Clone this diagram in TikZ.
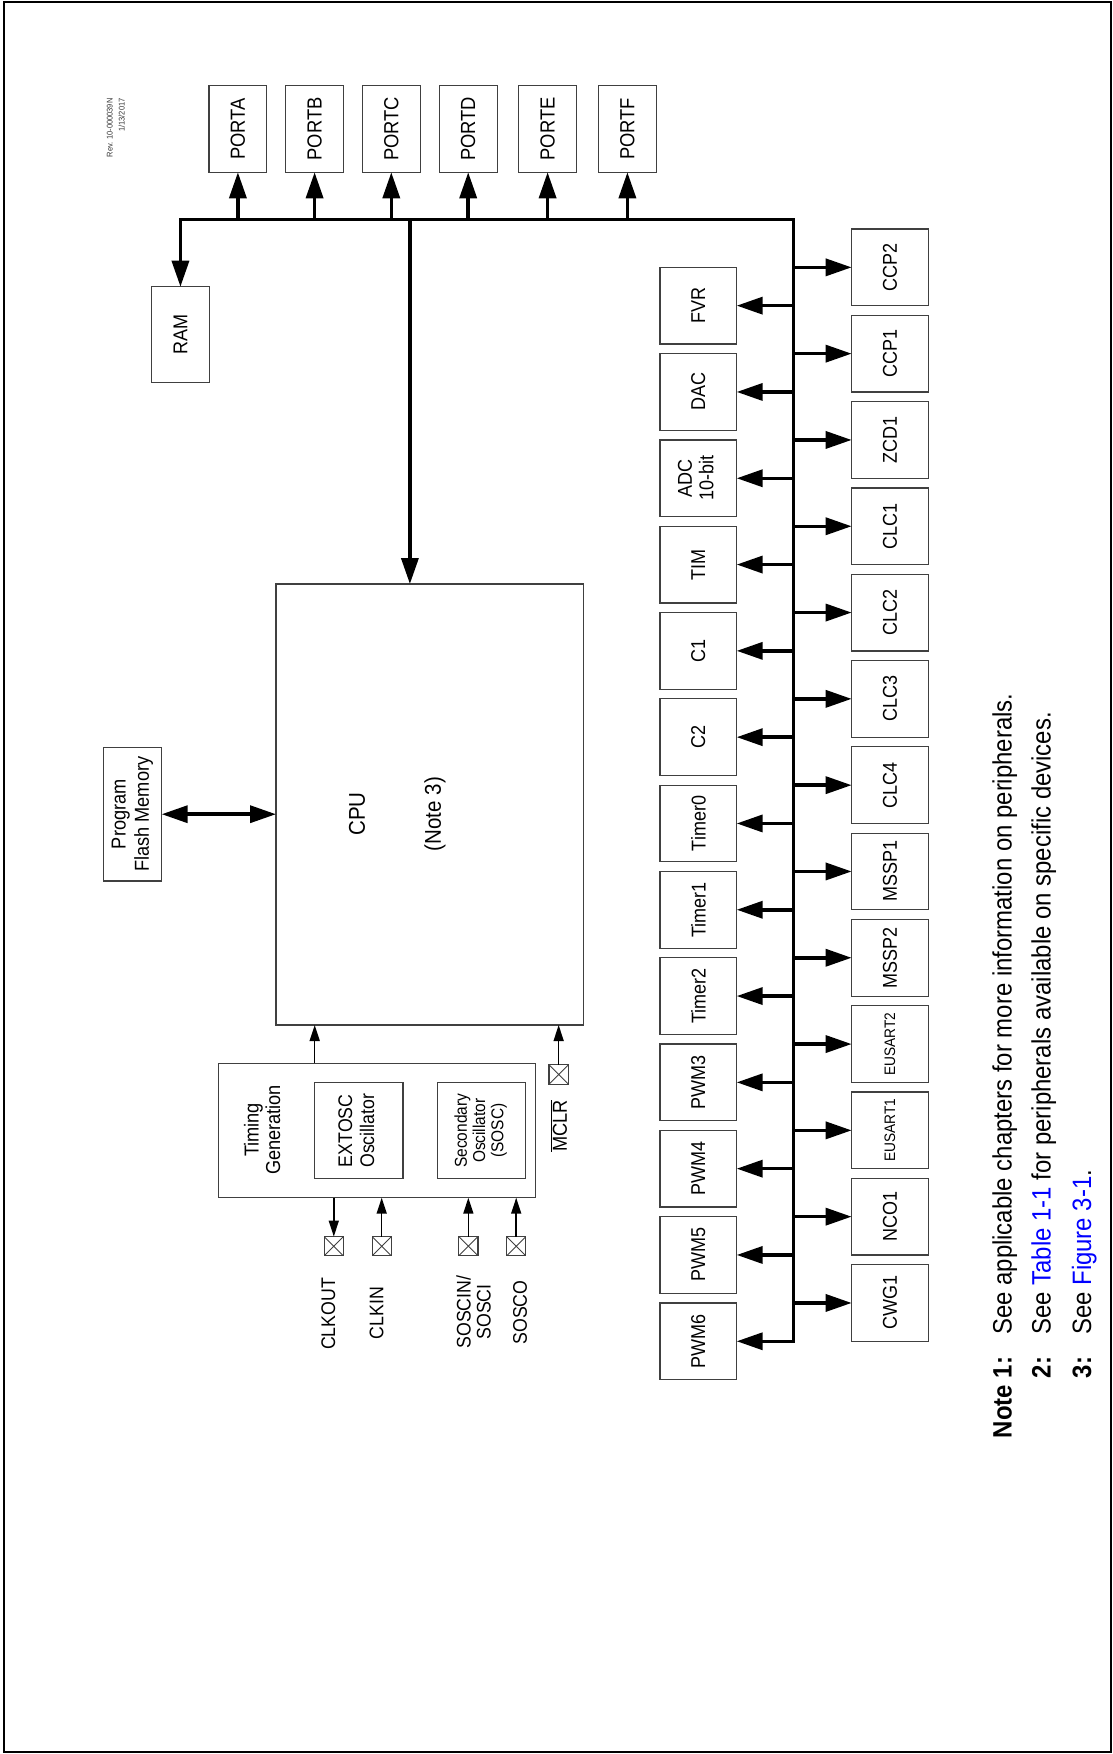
\documentclass[tikz,border=0pt]{standalone}
\usepackage{fontspec}
\setmainfont{Liberation Sans}[FakeStretch=0.9]
\usepackage{graphicx}
\usetikzlibrary{arrows.meta}
\newcommand{\fsz}[2]{\fontsize{#1}{#2}\selectfont}
\newcommand{\rt}[1]{\rotatebox{90}{#1}}
\newcommand{\stk}[1]{\begin{tabular}{@{}c@{}}#1\end{tabular}}
\newcommand{\smtxt}{\fsz{15.2}{16.5}}
\begin{document}
\begin{tikzpicture}[x=1pt,y=-1pt,
  box/.style={draw=black!75, line width=1.2pt, inner sep=0pt, outer sep=0pt, font=\fsz{20}{21.6}},
  port/.style={box, minimum width=57.8pt, minimum height=87pt, font=\fsz{20.4}{22}},
  periph/.style={box, minimum width=76.7pt, minimum height=76.7pt},
  pinbox/.style={draw=black!75, line width=1.1pt, inner sep=0pt, outer sep=0pt, minimum size=19.3pt,
    path picture={\draw[black!75,line width=0.9pt] (path picture bounding box.north west) -- (path picture bounding box.south east) (path picture bounding box.north east) -- (path picture bounding box.south west);}},
  lbl/.style={inner sep=0pt, font=\fsz{19.7}{20}},
  busline/.style={line width=3.5pt},
  thinline/.style={line width=1.5pt},
  bigarrow/.style={-{Triangle[length=26pt,width=17pt]}},
  dblarrow/.style={{Triangle[length=26pt,width=17pt]}-{Triangle[length=26pt,width=17pt]}},
  smallarrow/.style={-{Triangle[length=16pt,width=10pt]}},
  note/.style={inner sep=0pt, rotate=90, font=\fsz{26.6}{30}},
  notelab/.style={inner sep=0pt, rotate=90, font=\fsz{26.6}{30}\bfseries, anchor=base east}
]
\useasboundingbox (0,0) rectangle (1112,1754);
\draw[line width=2pt] (4.3,1.8) rectangle (1111,1752.3);

% revision text
\node[rotate=90, anchor=north east, align=right, inner sep=0pt, font=\fsz{8.3}{12}, text=black!80] (rev) at (106.7,98.3) {Rev. 10-000039N\\1/13/2017};

% ports
\foreach \n/\t/\x in {pa/PORTA/237.9, pb/PORTB/314.6, pc/PORTC/391.3, pd/PORTD/468.2, pe/PORTE/547.6, pf/PORTF/627.4}
  \node[port] (\n) at (\x,128.8) {\rt{\t}};

% RAM, CPU, flash
\node[box, minimum width=57.7pt, minimum height=95.6pt] (ram) at (180.45,334.5) {\rt{RAM}};
\node[box, minimum width=307.3pt, minimum height=441pt] (cpu) at (429.65,804.5) {};
\node[lbl, font=\fsz{22.8}{25}] (lcpu) at (357,814) {\rt{CPU}};
\node[lbl, font=\fsz{22.8}{25}] (lnote3) at (435,814) {\rt{(Note 3)}};
\node[box, minimum width=58.4pt, minimum height=133.7pt, font=\fsz{20.2}{23.3}] (pfm) at (132.5,814.2) {\rt{\stk{Program\\Flash Memory}}};

% timing generation
\node[box, minimum width=316.6pt, minimum height=134.4pt] (tmg) at (377,1130.5) {};
\node[lbl, font=\fsz{20.2}{21.6}] (ltmg) at (265,1130) {\rt{\stk{Timing\\Generation}}};
\node[box, minimum width=88.7pt, minimum height=96pt, font=\fsz{19.7}{22}] (extosc) at (358.65,1130.7) {\rt{\stk{EXTOSC\\Oscillator}}};
\node[box, minimum width=88.4pt, minimum height=96pt, font=\fsz{17.2}{18.3}] (sosc) at (481.5,1130.7) {\rt{\stk{Secondary\\Oscillator\\(SOSC)}}};

% pins
\node[pinbox] (pmclr) at (558.65,1074.5) {};
\node[pinbox] (pclkout) at (333.8,1246.2) {};
\node[pinbox] (pclkin) at (381.7,1246.2) {};
\node[pinbox] (psoscin) at (468.35,1246.2) {};
\node[pinbox] (psosco) at (516.2,1246.2) {};
\node[lbl, font=\fsz{20.2}{22}] (lmclr) at (559,1126) {\rt{$\overline{\mbox{MCLR}}$}};
\node[lbl] (lclkout) at (328.3,1314) {\rt{CLKOUT}};
\node[lbl] (lclkin) at (376.7,1313) {\rt{CLKIN}};
\node[lbl] (lsoscin) at (476.4,1312) {\rt{\stk{SOSCIN/\\SOSCI}}};
\node[lbl] (lsosco) at (520,1312.5) {\rt{SOSCO}};

% peripherals
\foreach \n/\t [count=\i from 0] in {fvr/FVR,dac/DAC,adc/{\stk{ADC\\10-bit}},tim/TIM,c1/C1,c2/C2,tmr0/Timer0,tmr1/Timer1,tmr2/Timer2,pwm3/PWM3,pwm4/PWM4,pwm5/PWM5,pwm6/PWM6}
  \node[periph] (\n) at (698.35,{305.65+86.3*\i}) {\rt{\t}};
\foreach \n/\t [count=\i from 0] in {ccp2/CCP2,ccp1/CCP1,zcd1/ZCD1,clc1/CLC1,clc2/CLC2,clc3/CLC3,clc4/CLC4,mssp1/MSSP1,mssp2/MSSP2,eus2/{\smtxt EUSART2},eus1/{\smtxt EUSART1},nco1/NCO1,cwg1/CWG1}
  \node[periph] (\n) at (890,{267.35+86.3*\i}) {\rt{\t}};

% bus
\coordinate (busR) at (793.3,219.3);
\draw[busline, dblarrow] (pwm6.east) -- (pwm6.east -| busR) -- (busR) -- (ram.north |- busR) -- (ram.north);
\foreach \n in {pa,pb,pc,pd,pe,pf}
  \draw[busline, bigarrow] (\n.south |- busR) -- (\n.south);
\coordinate (cpuin) at (409.9,0);
\draw[busline, bigarrow] (cpuin |- busR) -- (cpuin |- cpu.north);
\foreach \n in {fvr,dac,adc,tim,c1,c2,tmr0,tmr1,tmr2,pwm3,pwm4,pwm5}
  \draw[busline, bigarrow] (\n.east -| busR) -- (\n.east);
\foreach \n in {ccp2,ccp1,zcd1,clc1,clc2,clc3,clc4,mssp1,mssp2,eus2,eus1,nco1,cwg1}
  \draw[busline, bigarrow] (\n.west -| busR) -- (\n.west);
\draw[busline, dblarrow] (pfm.east) -- (pfm.east -| cpu.west);

% thin connectors
\coordinate (tgx) at (314.7,0);
\draw[thinline, smallarrow] (tgx |- tmg.north) -- (tgx |- cpu.south);
\draw[thinline, smallarrow] (pmclr.north) -- (pmclr.north |- cpu.south);
\draw[thinline, smallarrow] (pclkout.north |- tmg.south) -- (pclkout.north);
\draw[thinline, smallarrow] (pclkin.north) -- (pclkin.north |- tmg.south);
\draw[thinline, smallarrow] (psoscin.north) -- (psoscin.north |- tmg.south);
\draw[thinline, smallarrow] (psosco.north) -- (psosco.north |- tmg.south);

% notes
\node[notelab] (n1l) at (1011.7,1356.7) {Note 1:};
\node[note, anchor=base west] (n1) at (1011.7,1335) {See applicable chapters for more information on peripherals.};
\node[notelab] (n2l) at (1050.7,1356.7) {2:};
\node[note, anchor=base west] (n2) at (1050.7,1335) {See \textcolor{blue}{Table 1-1} for peripherals available on specific devices.};
\node[notelab] (n3l) at (1091,1356.7) {3:};
\node[note, anchor=base west] (n3) at (1091,1335) {See \textcolor{blue}{Figure 3-1}.};
\end{tikzpicture}
\end{document}
